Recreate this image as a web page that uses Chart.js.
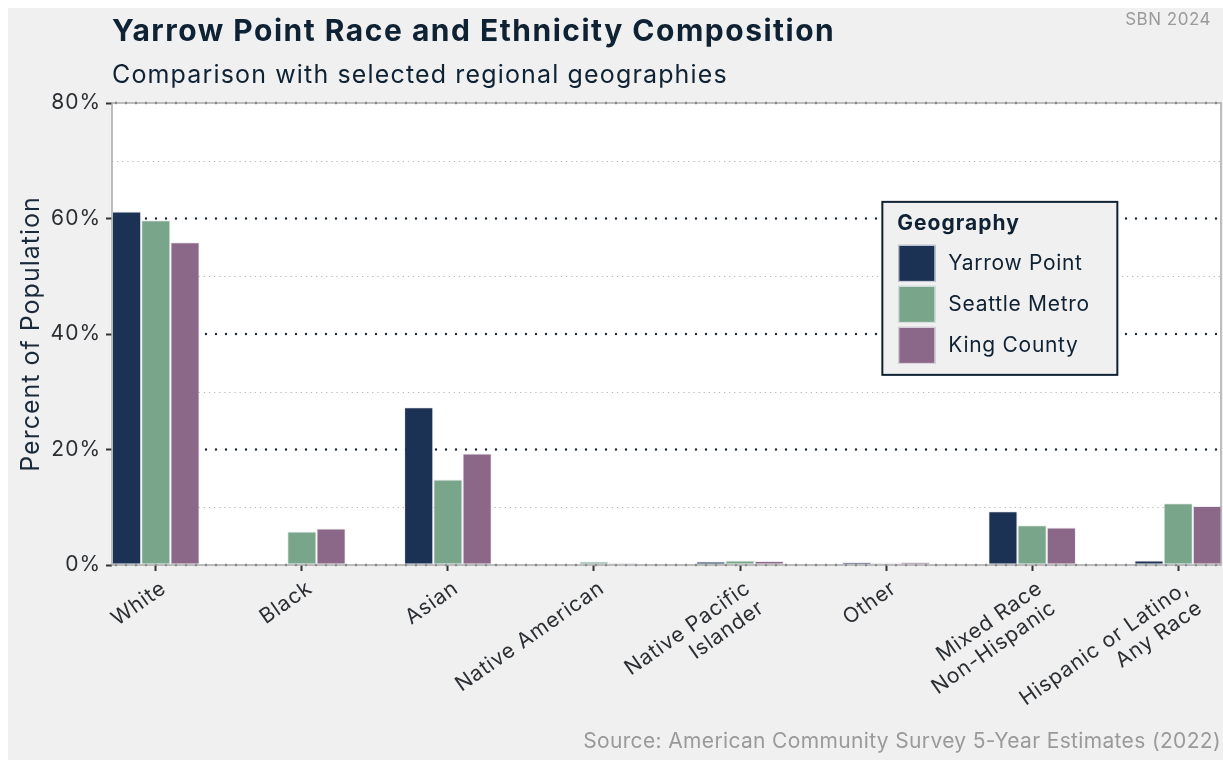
<!DOCTYPE html>
<html>
<head>
<meta charset="utf-8">
<script src="https://cdn.jsdelivr.net/npm/chart.js@4.4.1/dist/chart.umd.min.js"></script>
<style>
  html, body { margin: 0; padding: 0; background: #ffffff; }
  #wrap { position: relative; width: 1223px; height: 760px; overflow: hidden; }
  #bg { position: absolute; left: 8px; top: 8px; right: 0; bottom: 0; background: #f0f0f0; }
  canvas { position: absolute; left: 0; top: 0; }
  .txt { position: absolute; font-family: Inter, "Open Sans", sans-serif; white-space: nowrap; }
  #title { left: 112px; top: 15px; font-size: 30px; line-height: 30px; font-weight: 700; letter-spacing: 1.5px; color: #0f2233; }
  #subtitle { left: 112px; top: 62px; font-size: 25px; line-height: 25px; letter-spacing: 1.15px; color: #0f2233; }
  #tag { right: 12px; top: 11px; font-size: 17px; line-height: 17px; letter-spacing: 0.5px; color: #9a9a9a; }
  #source { right: 2px; top: 730px; font-size: 21px; line-height: 21px; letter-spacing: 0.35px; color: #9a9a9a; }
</style>
</head>
<body>
<div id="wrap">
  <div id="bg"></div>
  <canvas id="chart" width="1223" height="760"></canvas>
  <div class="txt" id="title">Yarrow Point Race and Ethnicity Composition</div>
  <div class="txt" id="subtitle">Comparison with selected regional geographies</div>
  <div class="txt" id="tag">SBN 2024</div>
  <div class="txt" id="source">Source: American Community Survey 5-Year Estimates (2022)</div>
</div>
<script>
// Race / ethnicity categories (line breaks mark wrapped axis labels)
const categories = [
  'White', 'Black', 'Asian', 'Native American',
  'Native Pacific\nIslander', 'Other',
  'Mixed Race\nNon-Hispanic', 'Hispanic or Latino,\nAny Race'
];

// Percent of population by geography
const yarrowPoint  = [61.2, 0.0, 27.3, 0.0, 0.6, 0.5, 9.3, 0.8];
const seattleMetro = [59.7, 5.8, 14.8, 0.6, 0.8, 0.45, 6.9, 10.7];
const kingCounty   = [55.9, 6.3, 19.3, 0.45, 0.7, 0.5, 6.5, 10.2];

const seriesNames = ['Yarrow Point', 'Seattle Metro', 'King County'];
const seriesColors = ['#1c3254', '#79a58b', '#8b6888'];

// y axis tick values (labelled) and the minor grid between them
const yTicks = [0, 20, 40, 60, 80];
const yMinor = [10, 30, 50, 70];

const FONT = 'Inter, "Open Sans", sans-serif';

function toPoints(values) {
  return values.map((v, i) => ({ x: i, y: v }));
}

const datasets = [yarrowPoint, seattleMetro, kingCounty].map((vals, k) => ({
  label: seriesNames[k],
  data: toPoints(vals),
  backgroundColor: seriesColors[k],
  borderColor: 'rgba(235,235,240,0.9)',
  borderWidth: 1,
  borderSkipped: false,
  categoryPercentage: 0.6,
  barPercentage: 1.0
}));

// White panel, dotted grid and panel frame
const panelPlugin = {
  id: 'panel',
  beforeDraw(chart) {
    const { ctx, chartArea: a } = chart;
    ctx.letterSpacing = '1px';
    ctx.save();
    ctx.fillStyle = '#ffffff';
    ctx.fillRect(a.left, a.top, a.right - a.left, a.bottom - a.top);
    ctx.restore();
  },
  beforeDatasetsDraw(chart) {
    const { ctx, chartArea: a, scales } = chart;
    const y = scales.y;
    ctx.save();
    // minor lines: fine grey dots
    ctx.strokeStyle = '#b9b9b9';
    ctx.lineWidth = 1.2;
    ctx.setLineDash([1.3, 3.8]);
    yMinor.forEach(v => {
      const py = Math.round(y.getPixelForValue(v)) + 0.5;
      ctx.beginPath();
      ctx.moveTo(a.left, py);
      ctx.lineTo(a.right, py);
      ctx.stroke();
    });
    // major lines: dark round dots
    ctx.strokeStyle = '#1b2a3a';
    ctx.lineWidth = 2.4;
    ctx.lineCap = 'round';
    ctx.setLineDash([0, 10]);
    yTicks.forEach(v => {
      const py = y.getPixelForValue(v);
      ctx.beginPath();
      ctx.moveTo(a.left + 4, py);
      ctx.lineTo(a.right, py);
      ctx.stroke();
    });
    ctx.restore();
  },
  afterDatasetsDraw(chart) {
    const { ctx, chartArea: a } = chart;
    ctx.save();
    ctx.strokeStyle = '#a9a9a9';
    ctx.lineWidth = 1.5;
    ctx.strokeRect(a.left, a.top, a.right - a.left - 1, a.bottom - a.top);
    ctx.restore();
  }
};

// Rotated category labels hanging from each x tick
const xLabels = {
  id: 'xLabels',
  afterDraw(chart, args, opts) {
    const { ctx, chartArea: a, scales } = chart;
    const xs = scales.x;
    ctx.save();
    ctx.font = '400 ' + opts.size + 'px ' + FONT;
    ctx.letterSpacing = opts.spacing;
    ctx.fillStyle = '#2b2f33';
    ctx.textAlign = 'right';
    ctx.textBaseline = 'middle';
    categories.forEach((lab, i) => {
      const px = xs.getPixelForValue(i);
      ctx.save();
      ctx.translate(px + opts.dx, a.bottom + opts.dy);
      ctx.rotate(-opts.angle * Math.PI / 180);
      lab.split('\n').forEach((line, j) => ctx.fillText(line, 0, j * opts.lineHeight));
      ctx.restore();
    });
    ctx.restore();
  }
};

// Boxed legend inside the panel
const boxLegend = {
  id: 'boxLegend',
  afterDraw(chart, args, opts) {
    const { ctx, chartArea: a } = chart;
    const x0 = a.left + opts.fx * (a.right - a.left);
    const y0 = a.top + opts.fy * (a.bottom - a.top);
    const w = opts.width, h = opts.height;
    ctx.save();
    ctx.fillStyle = '#f0f0f0';
    ctx.fillRect(x0, y0, w, h);
    ctx.strokeStyle = '#0f2233';
    ctx.lineWidth = 2;
    ctx.strokeRect(x0, y0, w, h);
    ctx.fillStyle = '#0f2233';
    ctx.textBaseline = 'alphabetic';
    ctx.letterSpacing = '1px';
    ctx.font = '700 21px ' + FONT;
    ctx.fillText(opts.title, x0 + 15, y0 + 28);
    chart.data.datasets.forEach((ds, i) => {
      const sy = y0 + 43 + i * 41;
      ctx.fillStyle = ds.backgroundColor;
      ctx.fillRect(x0 + 16, sy, 37, 37);
      ctx.strokeStyle = 'rgba(235,235,240,0.9)';
      ctx.lineWidth = 1;
      ctx.strokeRect(x0 + 16.5, sy + 0.5, 36, 36);
      ctx.fillStyle = '#0f2233';
      ctx.font = '400 21px ' + FONT;
      ctx.letterSpacing = '0.7px';
      ctx.textBaseline = 'middle';
      ctx.fillText(ds.label, x0 + 66, sy + 19);
    });
    ctx.restore();
  }
};

new Chart(document.getElementById('chart'), {
  type: 'bar',
  data: { datasets },
  plugins: [panelPlugin, xLabels, boxLegend],
  options: {
    responsive: false,
    animation: false,
    layout: { padding: { left: 8, top: 103, right: 1, bottom: 0 } },
    plugins: {
      legend: { display: false },
      tooltip: { enabled: false },
      xLabels: { size: 21, spacing: '0.8px', angle: 35, dx: 8, dy: 21, lineHeight: 24 },
      boxLegend: { title: 'Geography', fx: 0.694, fy: 0.214, width: 235, height: 173 }
    },
    scales: {
      x: {
        type: 'linear',
        min: -0.3,
        max: categories.length - 0.7,
        offset: false,
        afterBuildTicks(scale) {
          scale.ticks = categories.map((_, i) => ({ value: i }));
        },
        afterFit(scale) { scale.height = 195; },
        grid: {
          offset: false,
          drawOnChartArea: false,
          drawTicks: true,
          tickLength: 6,
          tickColor: '#333333',
          tickWidth: 2
        },
        border: { display: false },
        ticks: { display: false, autoSkip: false }
      },
      y: {
        min: 0,
        max: 80,
        afterBuildTicks(scale) {
          scale.ticks = yTicks.map(v => ({ value: v }));
        },
        afterFit(scale) { scale.width = 104; },
        grid: {
          drawOnChartArea: false,
          drawTicks: true,
          tickLength: 6,
          tickColor: '#333333',
          tickWidth: 2
        },
        border: { display: false },
        ticks: {
          padding: 5,
          color: '#2b2f33',
          font: { family: FONT, size: 21 },
          callback: (v) => v + '%'
        },
        title: {
          display: true,
          text: 'Percent of Population',
          color: '#1b2a3a',
          font: { family: FONT, size: 25 },
          padding: { top: 8, bottom: 0 }
        }
      }
    }
  }
});
</script>
</body>
</html>
